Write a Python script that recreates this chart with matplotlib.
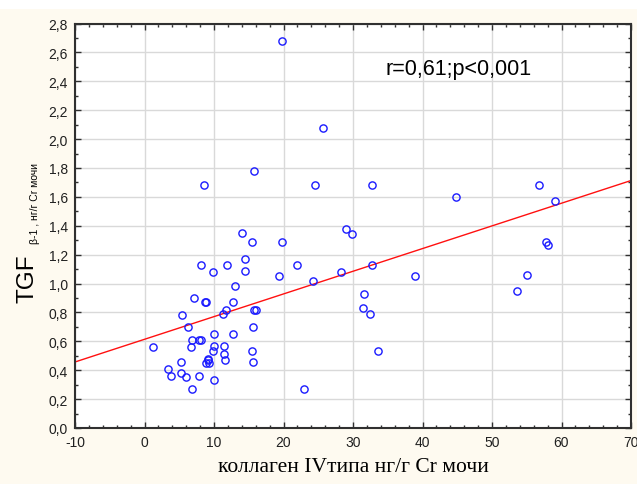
import numpy as np
import matplotlib
matplotlib.use("Agg")
import matplotlib.pyplot as plt
from matplotlib.ticker import MultipleLocator, FuncFormatter
from matplotlib.patches import Rectangle

# collagen IV (x) vs TGF-beta1 (y)
collagen = [19.8, 8.6, 15.8, 24.6, 25.7, 32.8, 44.8, 56.8, 59.0,
            14.0, 15.5, 19.8, 29.0, 29.9, 8.1, 11.8, 14.5, 14.5,
            9.9, 22.0, 19.4, 24.2, 28.3, 32.8, 38.9, 31.6, 31.4,
            32.4, 33.6, 53.6, 55.1, 57.8, 58.0, 13.0, 7.1, 8.7,
            8.9, 12.8, 11.7, 11.3, 15.8, 16.0, 5.4, 6.2, 15.6,
            1.2, 6.9, 7.9, 8.1, 10.0, 12.7, 6.7, 10.0, 11.4,
            9.8, 15.5, 11.5, 11.6, 5.2, 8.85, 9.1, 9.3, 9.2,
            15.6, 3.4, 3.8, 5.2, 6.0, 7.9, 10.0, 6.8, 23.0]
tgf = [2.68, 1.68, 1.78, 1.68, 2.08, 1.68, 1.60, 1.68, 1.57,
       1.35, 1.29, 1.29, 1.38, 1.34, 1.13, 1.13, 1.17, 1.09,
       1.08, 1.13, 1.05, 1.02, 1.08, 1.13, 1.05, 0.93, 0.83,
       0.79, 0.53, 0.95, 1.06, 1.29, 1.27, 0.98, 0.90, 0.87,
       0.87, 0.87, 0.82, 0.79, 0.82, 0.82, 0.78, 0.70, 0.70,
       0.56, 0.61, 0.61, 0.61, 0.65, 0.65, 0.56, 0.57, 0.57,
       0.53, 0.53, 0.51, 0.47, 0.46, 0.45, 0.48, 0.45, 0.47,
       0.46, 0.41, 0.36, 0.38, 0.35, 0.36, 0.33, 0.27, 0.27]

# regression line as drawn
fit_intercept = 0.614
fit_slope = 0.0157

x_lim = (-10, 70)
y_lim = (0, 2.8)

fig = plt.figure(figsize=(6.37, 4.85), dpi=100)
fig.patch.set_facecolor("#FEFAF0")
# white strip along the top edge
fig.patches.append(Rectangle((0, 1 - 10 / 485), 1, 10 / 485, transform=fig.transFigure,
                             facecolor="white", edgecolor="none", zorder=0))

ax = fig.add_axes([75 / 637, 1 - 429 / 485, 556 / 637, 404.5 / 485])
ax.set_facecolor("white")

ax.grid(True, color="#D9D9D9", linewidth=1.0, zorder=0)
ax.set_axisbelow(True)

xs = np.array(x_lim)
ax.plot(xs, fit_intercept + fit_slope * xs, color="#FF1010", linewidth=1.0, zorder=2)
ax.plot(collagen, tgf, linestyle="none", marker="o", markersize=5.2,
        markerfacecolor="none", markeredgecolor="#1A1AFF", markeredgewidth=1.0, zorder=3)

ax.set_xlim(*x_lim)
ax.set_ylim(*y_lim)
ax.xaxis.set_major_locator(MultipleLocator(10))
ax.xaxis.set_minor_locator(MultipleLocator(2))
ax.yaxis.set_major_locator(MultipleLocator(0.2))
ax.yaxis.set_minor_locator(MultipleLocator(0.1))
ax.xaxis.set_major_formatter(FuncFormatter(lambda v, p: f"{v:.0f}"))
ax.yaxis.set_major_formatter(FuncFormatter(lambda v, p: f"{v:.1f}".replace(".", ",")))

ax.tick_params(which="both", direction="in", top=True, right=True, color="#303030")
ax.tick_params(which="major", length=4, width=1, labelsize=10, pad=5)
ax.tick_params(which="minor", length=2.5, width=1)
for lbl in ax.get_xticklabels() + ax.get_yticklabels():
    lbl.set_fontfamily("Liberation Sans")
    lbl.set_color("#202020")
for sp in ax.spines.values():
    sp.set_color("#303030")
    sp.set_linewidth(1.5)

ax.text(0.689, 0.888, "r=0,61;p<0,001", transform=ax.transAxes,
        fontsize=15.5, family="Liberation Sans", ha="center", va="center")

fig.text(353 / 637, 1 - 468 / 485, "коллаген IVтипа нг/г Cr мочи",
         fontsize=15.5, family="Liberation Serif", ha="center", va="center")

fig.text(27 / 637, 1 - 303 / 485, "TGF", rotation=90, fontsize=17.5,
         family="Liberation Sans", ha="center", va="bottom")
fig.text(35 / 637, 1 - 244 / 485, "β-1 , нг/г Cr мочи", rotation=90, fontsize=7.5,
         family="Liberation Sans", ha="center", va="bottom")

fig.savefig("out.png", dpi=100, facecolor=fig.get_facecolor())
